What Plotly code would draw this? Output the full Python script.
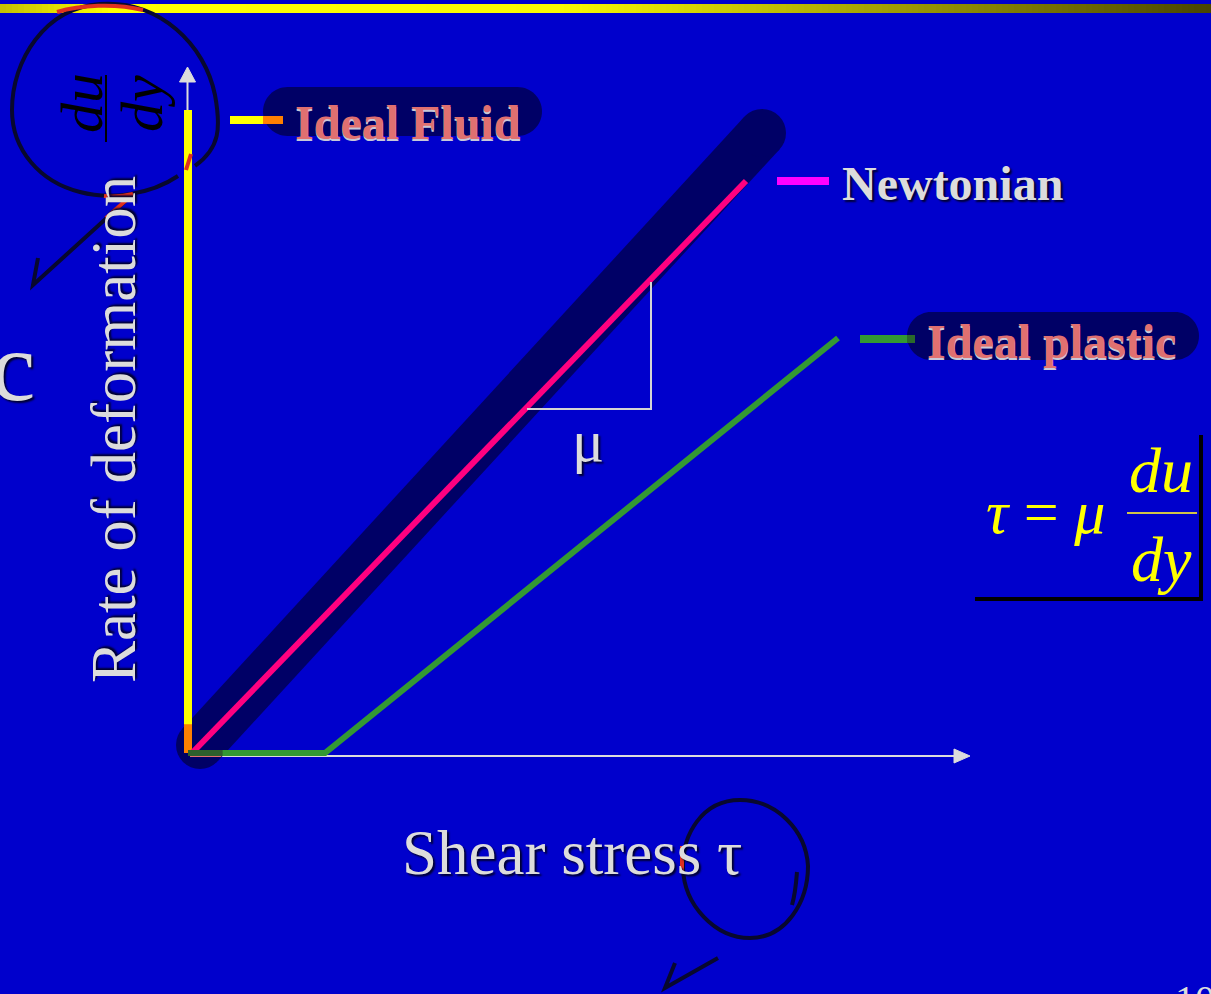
import math
import plotly.graph_objects as go

# ---------------- data: shear stress (tau) vs rate of deformation (du/dy) ----------------
ideal_fluid_tau = [0.0, 0.0]
ideal_fluid_rate = [0.0, 6.43]

newtonian_tau = [0.05, 5.58]
newtonian_rate = [0.01, 5.72]

plastic_tau = [0.0, 1.37, 6.50]
plastic_rate = [0.0, 0.0, 4.15]

series_names = ["Ideal Fluid", "Newtonian", "Ideal plastic"]
x_title = "Shear stress τ"
y_title = "Rate of deformation"

# ---------------- page geometry ----------------
W, H = 1211, 994
ORIGIN = (188, 753)      # pixel position of the (0, 0) corner
SCALE = 100.0            # pixels per unit on both axes
x_range = [-ORIGIN[0] / SCALE, (W - ORIGIN[0]) / SCALE]
y_range = [-(H - ORIGIN[1]) / SCALE, ORIGIN[1] / SCALE]

BG = "#0000CC"
NAVY = "#000066"
TEXT = "#DCDCDC"
SALMON = "#E07070"
PEN = "#08082E"
SERIF = "Liberation Serif, Times New Roman, serif"
SHADOW = "2px 2px 2px #000030"
HL_SHADOW = "0px 2px 0px #C8C8D8"


def fx(x):
    return x / W


def fy(y):
    return 1 - y / H


def paper_path(d):
    """Convert an SVG-like path written in page pixels into paper coordinates."""
    out, pair = [], []
    for tok in d.replace(",", " ").split():
        if tok.isalpha():
            out.append(tok)
        else:
            pair.append(float(tok))
            if len(pair) == 2:
                out.append(f"{fx(pair[0]):.5f},{fy(pair[1]):.5f}")
                pair = []
    return " ".join(out)


def pill_path(x0, x1, y0, y1):
    r = (y1 - y0) / 2
    ym = (y0 + y1) / 2
    k = 0.5523 * r
    d = (f"M {x0 + r} {y0} L {x1 - r} {y0} "
         f"C {x1 - r + k} {y0} {x1} {ym - k} {x1} {ym} "
         f"C {x1} {ym + k} {x1 - r + k} {y1} {x1 - r} {y1} "
         f"L {x0 + r} {y1} "
         f"C {x0 + r - k} {y1} {x0} {ym + k} {x0} {ym} "
         f"C {x0} {ym - k} {x0 + r - k} {y0} {x0 + r} {y0} Z")
    return paper_path(d)


shapes = []
annotations = []

# ---------------- title rule across the top (gradient strip) ----------------
stops = [(0, (195, 190, 0)), (110, (255, 255, 0)), (560, (250, 250, 0)), (1211, (72, 68, 0))]


def grad(x):
    for (xa, ca), (xb, cb) in zip(stops[:-1], stops[1:]):
        if xa <= x <= xb:
            t = (x - xa) / (xb - xa)
            return tuple(int(round(a + (b - a) * t)) for a, b in zip(ca, cb))
    return stops[-1][1]


step = 6
for x in range(0, W, step):
    c = grad(x + step / 2)
    shapes.append(dict(type="rect", xref="paper", yref="paper",
                       x0=fx(x), x1=fx(min(x + step + 0.5, W)), y0=fy(13), y1=fy(4),
                       fillcolor=f"rgb{c}", line=dict(width=0), layer="below"))

# ---------------- axes with arrows (data coordinates) ----------------
AX = "#DCDCDC"
x_axis_y = -0.03
shapes.append(dict(type="line", xref="x", yref="y", x0=0.0, x1=7.70, y0=x_axis_y, y1=x_axis_y,
                   line=dict(color=AX, width=2), layer="below"))
shapes.append(dict(type="path", xref="x", yref="y",
                   path=f"M 7.66,{x_axis_y + 0.07} L 7.82,{x_axis_y} L 7.66,{x_axis_y - 0.07} Z",
                   fillcolor=AX, line=dict(color=AX, width=1), layer="below"))
y_axis_x = -0.005
shapes.append(dict(type="line", xref="x", yref="y", x0=y_axis_x, x1=y_axis_x, y0=0.0, y1=6.72,
                   line=dict(color=AX, width=2), layer="below"))
shapes.append(dict(type="path", xref="x", yref="y",
                   path=f"M {y_axis_x - 0.08},6.71 L {y_axis_x},6.86 L {y_axis_x + 0.08},6.71 Z",
                   fillcolor=AX, line=dict(color=AX, width=1), layer="below"))

# ---------------- highlighter stroke along the Newtonian line ----------------
hl_a = (0.12, 0.08)
hl_b = (5.74, 6.20)
hl_r = 0.24
shapes.append(dict(type="line", xref="x", yref="y", x0=hl_a[0], y0=hl_a[1], x1=hl_b[0], y1=hl_b[1],
                   line=dict(color=NAVY, width=2 * hl_r * SCALE), layer="below"))
for cx, cy in (hl_a, hl_b):
    shapes.append(dict(type="circle", xref="x", yref="y", x0=cx - hl_r, x1=cx + hl_r,
                       y0=cy - hl_r, y1=cy + hl_r, fillcolor=NAVY, line=dict(width=0), layer="below"))

# part of the stress axis covered by the highlighter
ax_cov = hl_a[0] + math.sqrt(hl_r ** 2 - (x_axis_y - hl_a[1]) ** 2)
shapes.append(dict(type="line", xref="x", yref="y", x0=0.02, x1=ax_cov, y0=x_axis_y, y1=x_axis_y,
                   line=dict(color=SALMON, width=2), layer="below"))

# extents of the fluid / plastic lines lying under the highlighter blob
fluid_cov = hl_a[1] + math.sqrt(hl_r ** 2 - (ideal_fluid_tau[0] - hl_a[0]) ** 2)
plastic_cov = hl_a[0] + math.sqrt(hl_r ** 2 - (plastic_rate[0] - hl_a[1]) ** 2)

# ---------------- slope triangle ----------------
shapes.append(dict(type="path", xref="paper", yref="paper",
                   path=paper_path("M 527 409 L 651 409 L 651 282"),
                   line=dict(color="#D4D4D4", width=2), layer="above"))

# ---------------- legend keys ----------------
shapes.append(dict(type="path", xref="paper", yref="paper", path=pill_path(263, 542, 87, 136),
                   fillcolor=NAVY, line=dict(width=0), layer="below"))
shapes.append(dict(type="path", xref="paper", yref="paper", path=pill_path(907, 1199, 312, 360),
                   fillcolor=NAVY, line=dict(width=0), layer="below"))
legend_keys = [
    (230, 263, 120, "#FFFF00"), (263, 283, 120, "#FF8000"),
    (777, 829, 181, "#FF00FF"),
    (860, 907, 339, "#339933"), (907, 915, 339, "#2A6A2A"),
]
for x0, x1, y, col in legend_keys:
    shapes.append(dict(type="line", xref="paper", yref="paper", x0=fx(x0), x1=fx(x1),
                       y0=fy(y), y1=fy(y), line=dict(color=col, width=8), layer="above"))

# ---------------- formula box ----------------
shapes.append(dict(type="line", xref="paper", yref="paper", x0=fx(1127), x1=fx(1197),
                   y0=fy(513), y1=fy(513), line=dict(color="#D0C448", width=2), layer="above"))
shapes.append(dict(type="path", xref="paper", yref="paper",
                   path=paper_path("M 975 599 L 1201 599 L 1201 435"),
                   line=dict(color="#000000", width=4), layer="above"))

# fraction bar of the rotated du/dy
shapes.append(dict(type="line", xref="paper", yref="paper", x0=fx(106), x1=fx(106),
                   y0=fy(75), y1=fy(142), line=dict(color="#000000", width=2), layer="above"))

# ---------------- hand-drawn pen marks ----------------
pen_strokes = [
    "M 178 176 C 150 195 110 200 80 192 C 40 182 12 150 12 110 "
    "C 12 60 45 8 100 4 C 160 0 205 45 215 95 C 221 128 220 148 195 166",
    "M 38 258 L 33 285 L 132 195",
    "M 797 872 C 796 885 795 895 792 905",
    "M 808 866 C 806 830 776 800 740 800 C 702 800 682 835 683 868 "
    "C 684 905 715 938 750 938 C 786 938 808 902 808 866",
    "M 718 958 L 665 988 L 675 963",
]
for d in pen_strokes:
    shapes.append(dict(type="path", xref="paper", yref="paper", path=paper_path(d),
                       line=dict(color=PEN, width=4), layer="above"))
pen_red = [
    "M 57 12 C 80 5 115 3 143 10",
    "M 191 154 L 186 170",
    "M 132 195 L 106 218",
    "M 104 196 C 115 197 125 196 133 194",
    "M 682 846 L 682 871",
]
for d in pen_red:
    shapes.append(dict(type="path", xref="paper", yref="paper", path=paper_path(d),
                       line=dict(color="#E03020", width=4), layer="above"))

# ---------------- text ----------------


def label(text, x, y, size, color, bold=False, italic=False, angle=0, shadow=None):
    annotations.append(dict(
        text=text, x=fx(x), y=fy(y), xref="paper", yref="paper", showarrow=False,
        xanchor="center", yanchor="middle", textangle=angle,
        font=dict(family=SERIF, size=size, color=color,
                  weight="bold" if bold else "normal",
                  style="italic" if italic else "normal",
                  shadow=shadow if shadow else "none"),
    ))


label(series_names[0], 408, 122, 48, SALMON, bold=True, shadow=HL_SHADOW)
label(series_names[1], 952, 183, 48, TEXT, bold=True, shadow=SHADOW)
label(series_names[2], 1051, 341, 48, SALMON, bold=True, shadow=HL_SHADOW)
label(x_title, 572, 853, 63, TEXT, shadow=SHADOW)
label(y_title, 114, 430, 63, TEXT, angle=-90, shadow=SHADOW)
label("μ", 588, 441, 60, TEXT, shadow=SHADOW)
label("c", 13, 367, 100, TEXT, shadow=SHADOW)
label("10", 1195, 1000, 40, TEXT)
label("du", 82, 103, 60, "#000000", italic=True, angle=-90)
label("dy", 142, 104, 60, "#000000", italic=True, angle=-90)
label("<i>τ</i> = <i>μ</i>", 1045, 512, 62, "#FFFF00")
label("du", 1161, 470, 64, "#FFFF00", italic=True)
label("dy", 1161, 559, 64, "#FFFF00", italic=True)

# ---------------- traces ----------------
fig = go.Figure()
fig.add_trace(go.Scatter(x=ideal_fluid_tau, y=ideal_fluid_rate, mode="lines",
                         line=dict(color="#FFFF00", width=8), name=series_names[0]))
fig.add_trace(go.Scatter(x=ideal_fluid_tau, y=[ideal_fluid_rate[0], fluid_cov], mode="lines",
                         line=dict(color="#FF8000", width=8), name=series_names[0]))
fig.add_trace(go.Scatter(x=newtonian_tau, y=newtonian_rate, mode="lines",
                         line=dict(color="#FF0080", width=6), name=series_names[1]))
fig.add_trace(go.Scatter(x=plastic_tau, y=plastic_rate, mode="lines",
                         line=dict(color="#339933", width=6), name=series_names[2]))
fig.add_trace(go.Scatter(x=[plastic_tau[0], plastic_cov], y=plastic_rate[:2], mode="lines",
                         line=dict(color="#2D5F2D", width=6), name=series_names[2]))

fig.update_layout(
    width=W, height=H,
    margin=dict(l=0, r=0, t=0, b=0, pad=0),
    paper_bgcolor=BG, plot_bgcolor="rgba(0,0,0,0)",
    showlegend=False,
    xaxis=dict(range=x_range, visible=False, fixedrange=True),
    yaxis=dict(range=y_range, visible=False, fixedrange=True),
    shapes=shapes, annotations=annotations,
)

fig.write_html("out.html", config={"displayModeBar": False})
